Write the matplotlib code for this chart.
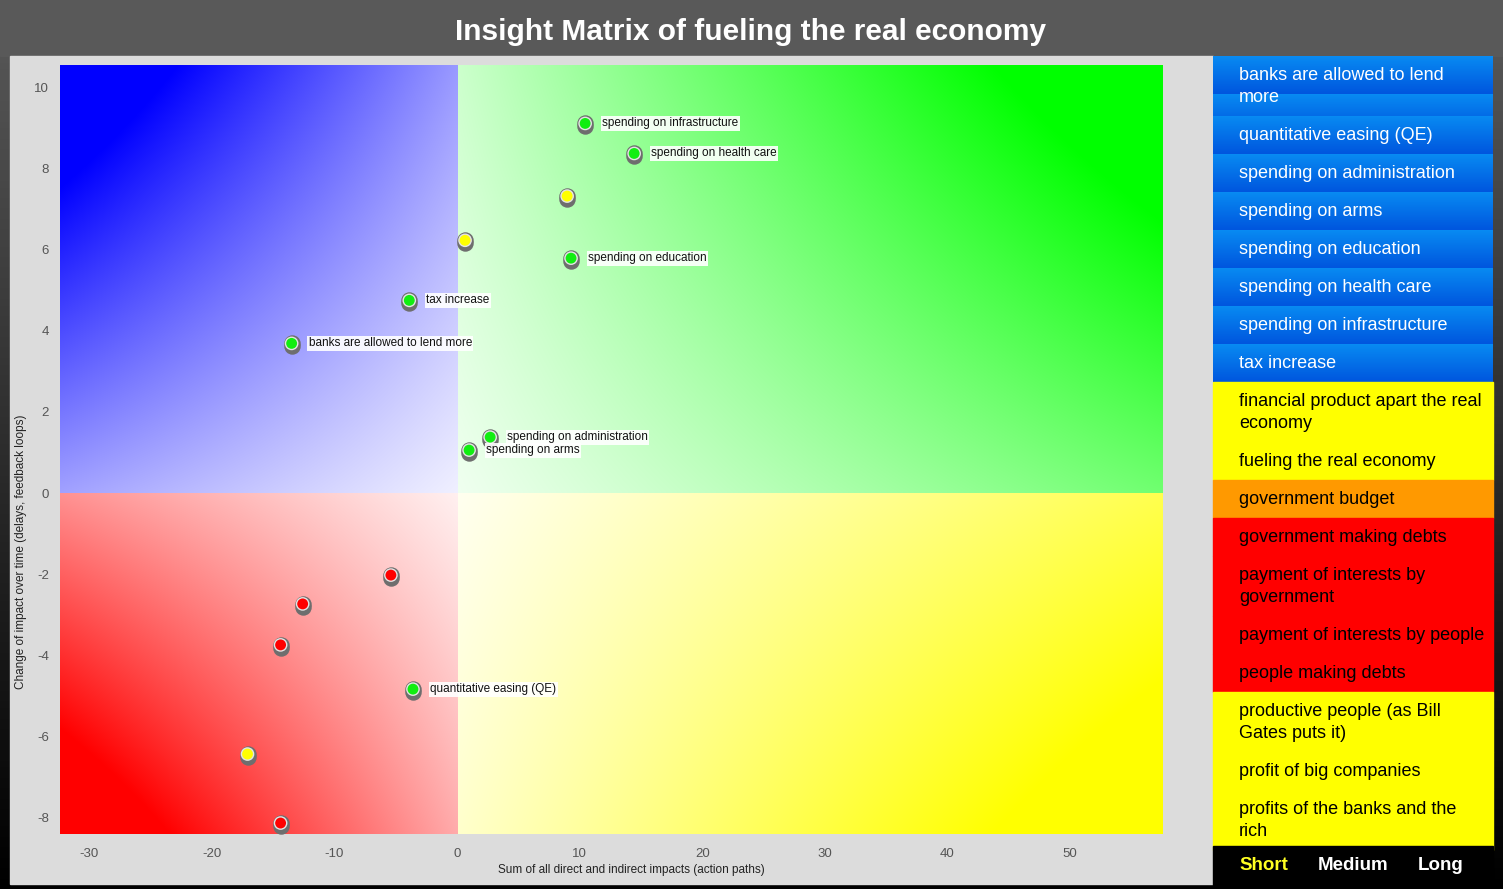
import numpy as np
import matplotlib
matplotlib.use("Agg")
from matplotlib import pyplot as plt
from matplotlib.patches import Rectangle
from matplotlib import transforms

plt.rcParams['font.family'] = ['Liberation Sans', 'DejaVu Sans']
plt.rcParams['axes.unicode_minus'] = False

W, H = 1503, 889

# points in the matrix
point_x = [10.45, 14.45, 8.98, 0.65, 9.3, -3.9, -13.5, 2.7, 0.98,
           -5.4, -12.6, -14.4, -3.6, -17.1, -14.4]
point_y = [9.11, 8.37, 7.32, 6.23, 5.79, 4.75, 3.69, 1.38, 1.06,
           -2.02, -2.73, -3.74, -4.83, -6.43, -8.13]
point_color = ['green', 'green', 'yellow', 'yellow', 'green', 'green', 'green', 'green', 'green',
               'red', 'red', 'red', 'green', 'yellow', 'red']
point_label = ['spending on infrastructure', 'spending on health care', '', '',
               'spending on education', 'tax increase', 'banks are allowed to lend more',
               'spending on administration', 'spending on arms',
               '', '', '', 'quantitative easing (QE)', '', '']

x_ticks = [-30, -20, -10, 0, 10, 20, 30, 40, 50]
y_ticks = [-8, -6, -4, -2, 0, 2, 4, 6, 8, 10]

# legend on the right
legend_names = ['banks are allowed to lend\nmore', 'quantitative easing (QE)',
                'spending on administration', 'spending on arms', 'spending on education',
                'spending on health care', 'spending on infrastructure', 'tax increase',
                'financial product apart the real\neconomy', 'fueling the real economy',
                'government budget', 'government making debts',
                'payment of interests by\ngovernment', 'payment of interests by people',
                'people making debts', 'productive people (as Bill\nGates puts it)',
                'profit of big companies', 'profits of the banks and the\nrich']
legend_kind = ['blue'] * 8 + ['yellow', 'yellow', 'orange', 'red', 'red', 'red', 'red',
                              'yellow', 'yellow', 'yellow']
horizon = ['Short', 'Medium', 'Long']

dot_colors = {'green': '#11ee11', 'yellow': '#ffff00', 'red': '#ff0000'}
row_colors = {'yellow': '#ffff00', 'orange': '#ff9900', 'red': '#ff0000'}

fig = plt.figure(figsize=(W / 100, H / 100), dpi=100)

# background, pixel coordinates
bg = fig.add_axes([0, 0, 1, 1])
bg.set_xlim(0, W)
bg.set_ylim(H, 0)
bg.axis('off')
grad = np.linspace(0, 1, 256).reshape(-1, 1)
top = np.array([0x5a, 0x5a, 0x5a]) / 255
bgimg = top[None, None, :] * (1 - grad[:, :, None])
bg.imshow(bgimg, extent=[0, W, H, 0], aspect='auto', zorder=0)
bg.add_patch(Rectangle((0, 0), W, 56, color='#595959', zorder=1))
bg.add_patch(Rectangle((10, 56), 1203, 828, color='#dcdcdc', zorder=1))
bg.text(751, 32, 'Insight Matrix of fueling the real economy', color='white',
        fontsize=21.5, fontweight='bold', ha='center', va='center', zorder=2)

# legend rows
y0 = 56
blue_grad = np.linspace(0, 1, 38)
c_top = np.array([0x08, 0x8a, 0xf2]) / 255
c_bot = np.array([0x00, 0x56, 0xde]) / 255
for name, kind in zip(legend_names, legend_kind):
    nlines = name.count('\n') + 1
    h = 38 if nlines == 1 else 60
    if kind == 'blue':
        rows = np.arange(h) % 38
        img = c_top[None, :] * (1 - blue_grad[rows, None]) + c_bot[None, :] * blue_grad[rows, None]
        bg.imshow(img[:, None, :], extent=[1213, 1493, y0 + h, y0], aspect='auto', zorder=2)
        tc = 'white'
    else:
        bg.add_patch(Rectangle((1213, y0), 280, h, color=row_colors[kind], zorder=2))
        tc = 'black'
    for i, line in enumerate(name.split('\n')):
        bg.text(1239, y0 + 19 + 22 * i, line, color=tc, fontsize=13,
                ha='left', va='center', zorder=3)
    y0 += h

bg.add_patch(Rectangle((1213, 846), 280, 43, color='black', zorder=4))
for label, xc, col in zip(horizon, [1264, 1353, 1441], ['#ffff22', 'white', 'white']):
    bg.text(xc, 865, label, color=col, fontsize=13.5, fontweight='bold',
            ha='center', va='center', zorder=5)

bg.text(631, 870, 'Sum of all direct and indirect impacts (action paths)',
        fontsize=8.5, color='#222222', ha='center', va='center', zorder=3)
bg.text(21, 552, 'Change of impact over time (delays, feedback loops)',
        fontsize=8.5, color='#222222', ha='center', va='center', rotation=90, zorder=3)

# main chart
ax = fig.add_axes([60 / W, (H - 834) / H, 1103 / W, 769 / H])
xmin, xmax, ymin, ymax = -32.4, 57.6, -8.4, 10.55
ax.set_xlim(xmin, xmax)
ax.set_ylim(ymin, ymax)


def quadrant(color, t_edge_x, t_edge_y, ext):
    # u runs from the y axis outward, v from the x axis outward
    n = 200
    u = np.linspace(0, 1, n)[None, :]
    v = np.linspace(0, 1, n)[:, None]
    t = (0.06 * (1 - u) * (1 - v) + t_edge_x * u * (1 - v)
         + t_edge_y * (1 - u) * v + 1.25 * u * v)
    t = np.clip(t, 0, 1)[:, :, None]
    c = np.array(matplotlib.colors.to_rgb(color))
    img = (1 - t) * 1.0 + t * c[None, None, :]
    ax.imshow(img, extent=ext, origin='lower', aspect='auto', zorder=0,
              interpolation='bilinear')


quadrant('#00ff00', 0.56, 0.2, [0, xmax, 0, ymax])
quadrant('#ffff00', 0.69, 0.2, [0, xmax, 0, ymin])
quadrant('#0000ff', 0.37, 0.4, [0, xmin, 0, ymax])
quadrant('#ff0000', 0.43, 0.33, [0, xmin, 0, ymin])
ax.set_xlim(xmin, xmax)
ax.set_ylim(ymin, ymax)

shadow = transforms.offset_copy(ax.transData, fig=fig, x=0, y=-3, units='dots')
cols = [dot_colors[c] for c in point_color]
ax.scatter(point_x, point_y, s=140, color='#6e6e6e', transform=shadow, zorder=3, linewidths=0)
ax.scatter(point_x, point_y, s=140, color='#6e6e6e', zorder=3, linewidths=0)
ax.scatter(point_x, point_y, s=78, color=cols, edgecolors='#e4e4e4', linewidths=1, zorder=4)
for px, py, lab in zip(point_x, point_y, point_label):
    if lab:
        ax.annotate(lab, (px, py), xytext=(17, 0), textcoords='offset pixels',
                    ha='left', va='center', fontsize=8.5, color='#111111', zorder=5,
                    bbox=dict(facecolor='white', edgecolor='none', pad=1, alpha=0.9))

ax.set_xticks(x_ticks)
ax.set_yticks(y_ticks)
ax.tick_params(length=0, labelcolor='#555555', labelsize=9.5)
ax.tick_params(axis='x', pad=10)
ax.tick_params(axis='y', pad=8)
for s in ax.spines.values():
    s.set_visible(False)

fig.savefig('out.png', dpi=100)
